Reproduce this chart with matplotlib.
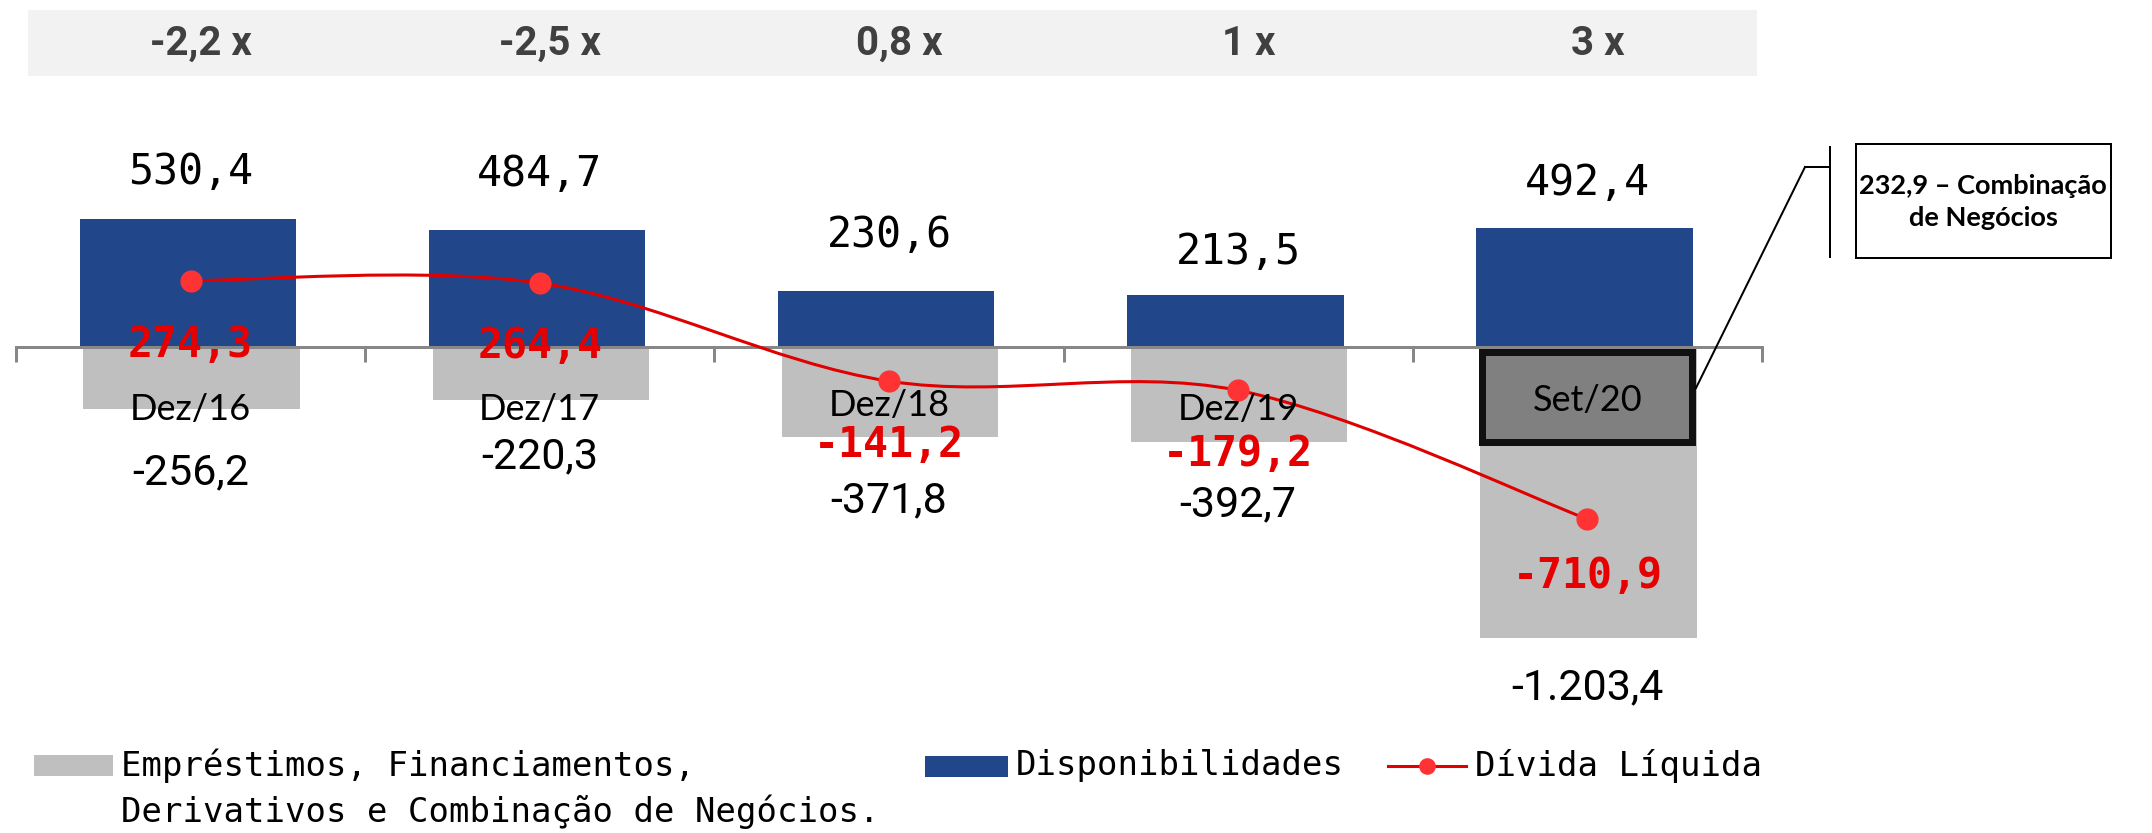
import matplotlib
matplotlib.use("Agg")
import matplotlib.pyplot as plt
import matplotlib.transforms as mtransforms
from matplotlib.patches import Rectangle, PathPatch
from matplotlib.path import Path
from matplotlib.lines import Line2D
import numpy as np

# ---------------- data ----------------
categories = ["Dez/16", "Dez/17", "Dez/18", "Dez/19", "Set/20"]
leverage_labels = ["-2,2 x", "-2,5 x", "0,8 x", "1 x", "3 x"]
cash = [530.4, 484.7, 230.6, 213.5, 492.4]                 # Disponibilidades
debt = [-256.2, -220.3, -371.8, -392.7, -1203.4]           # Empréstimos...
net_debt = [274.3, 264.4, -141.2, -179.2, -710.9]          # Dívida Líquida
combination_note = "232,9 – Combinação\nde Negócios"
legend_debt = ["Empréstimos, Financiamentos,", "Derivativos e Combinação de Negócios."]
legend_cash = "Disponibilidades"
legend_net = "Dívida Líquida"


def fmt_br(v):
    s = f"{v:,.1f}"
    return s.replace(",", "X").replace(".", ",").replace("X", ".")


# ---------------- style / layout ----------------
W, H, DPI = 2152, 833, 100
PT = 72.0 / DPI                 # points per pixel
BLUE = "#21468a"
GRAY = "#bfbfbf"
RED_LINE = "#e00000"
RED_DOT = "#ff3333"
RED_TXT = "#e60000"
AXIS_GRAY = "#878787"

AXIS_PY = 347.0     # pixel row of zero line (from top)
PX_PER_UNIT = 0.242
X0_PX, DX_PX = 190.6, 349.2
BAR_W = 0.62
cash_gap_px = [47, 56, 56, 43, 45]
debt_gap_px = [64, 57, 64, 63, 50]
net_gap_px = [64, 63, 64, 64, 57]
cat_gap_px = [62, 62, 58, 62, 53]

fig = plt.figure(figsize=(W / DPI, H / DPI), dpi=DPI)
ax = fig.add_axes([0, 0, 1, 1])
ax.set_xlim(-X0_PX / DX_PX, (W - X0_PX) / DX_PX)
ax.set_ylim(-(H - AXIS_PY) / PX_PER_UNIT, AXIS_PY / PX_PER_UNIT)
ax.patch.set_alpha(0)


def fx(px):
    return px / W


def fy(py):
    return 1 - py / H


x = np.arange(len(categories))

# bars
ax.bar(x + 0.003, debt, width=BAR_W, color=GRAY, zorder=1)
ax.bar(x - 0.008, cash, width=BAR_W, color=BLUE, zorder=2)

# highlighted Set/20 segment box (combination of business)
hl_top_px, hl_bot_px, hl_lw_px = 351.5, 441.5, 7
hl_y0 = (AXIS_PY - hl_top_px) / PX_PER_UNIT
hl_y1 = (AXIS_PY - hl_bot_px) / PX_PER_UNIT
hl_w = 0.601
ax.add_patch(Rectangle((x[-1] - hl_w / 2, hl_y1), hl_w, hl_y0 - hl_y1,
                       facecolor="#808080", edgecolor="#111111",
                       linewidth=hl_lw_px * PT, zorder=2.6))

# axis line with ticks at category boundaries
for s in ["top", "right", "left"]:
    ax.spines[s].set_visible(False)
ax.spines["bottom"].set_position(("data", 0))
ax.spines["bottom"].set_bounds(-0.5, len(categories) - 0.5)
ax.spines["bottom"].set_color(AXIS_GRAY)
ax.spines["bottom"].set_linewidth(3 * PT)
ax.spines["bottom"].set_zorder(2.5)
ax.set_xticks(np.arange(-0.5, len(categories), 1.0))
ax.tick_params(axis="x", direction="out", length=15 * PT, width=3 * PT,
               color=AXIS_GRAY, labelbottom=False)
ax.set_yticks([])

# smoothed net-debt line (Catmull-Rom -> Bezier)
pts = np.column_stack([x, net_debt]).astype(float)
ext = np.vstack([pts[0], pts, pts[-1]])
verts = [tuple(pts[0])]
codes = [Path.MOVETO]
for i in range(len(pts) - 1):
    p0, p1, p2, p3 = ext[i], ext[i + 1], ext[i + 2], ext[i + 3]
    c1 = p1 + (p2 - p0) / 6.0
    c2 = p2 - (p3 - p1) / 6.0
    verts += [tuple(c1), tuple(c2), tuple(p2)]
    codes += [Path.CURVE4] * 3
ax.add_patch(PathPatch(Path(verts, codes), fill=False, edgecolor=RED_LINE,
                       linewidth=2.2, zorder=3, capstyle="round"))
ax.plot(x, net_debt, "o", ms=16, color=RED_DOT, zorder=4, mec="none")

# labels
MONO = "DejaVu Sans Mono"
for i in x:
    ax.annotate(fmt_br(cash[i]), xy=(i, cash[i]), xytext=(0, cash_gap_px[i] * PT),
                textcoords="offset points", ha="center", va="center",
                fontsize=30, family=MONO, color="black", zorder=5)
    ax.annotate(fmt_br(debt[i]), xy=(i, debt[i]), xytext=(0, -debt_gap_px[i] * PT),
                textcoords="offset points", ha="center", va="center",
                fontsize=31, family="Roboto", color="black", zorder=5)
    ax.annotate(fmt_br(net_debt[i]), xy=(i, net_debt[i]),
                xytext=(0, -net_gap_px[i] * PT),
                textcoords="offset points", ha="center", va="center",
                fontsize=30, family=MONO, fontweight="bold", color=RED_TXT,
                zorder=6)
    ax.annotate(categories[i], xy=(i, 0), xytext=(0, -cat_gap_px[i] * PT),
                textcoords="offset points", ha="center", va="center",
                fontsize=26, family="Lato", color="black", zorder=5)

# header band with leverage multiples
fig.add_artist(Rectangle((fx(28), fy(76)), fx(1757) - fx(28), (76 - 10) / H,
                         transform=fig.transFigure, facecolor="#f2f2f2",
                         edgecolor="none", zorder=0))
blend = mtransforms.blended_transform_factory(ax.transData, fig.transFigure)
for i in x:
    ax.text(i + 0.03, fy(44), leverage_labels[i], transform=blend,
            ha="center", va="center", fontsize=29, family="Roboto",
            fontweight="bold", color="#404040", zorder=5)

# annotation box and bracket
fig.add_artist(Rectangle((fx(1856), fy(258)), fx(2111) - fx(1856), (258 - 144) / H,
                         transform=fig.transFigure, facecolor="white",
                         edgecolor="black", linewidth=2 * PT, zorder=5))
fig.text(fx(1983), fy(202), combination_note, ha="center", va="center",
         fontsize=19.5, family="Lato", fontweight="bold", color="black",
         linespacing=1.45, zorder=6)
for (xa, ya), (xb, yb) in [((1830, 147), (1830, 257)),
                           ((1805, 167), (1830, 167)),
                           ((1805, 167), (1696, 388))]:
    fig.add_artist(Line2D([fx(xa), fx(xb)], [fy(ya), fy(yb)],
                          transform=fig.transFigure, color="black",
                          linewidth=2 * PT, zorder=6))

# legend (manual)
LEG_FS = 24.5
fig.add_artist(Rectangle((fx(34), fy(776)), fx(113) - fx(34), 21 / H,
                         transform=fig.transFigure, facecolor=GRAY,
                         edgecolor="none"))
fig.text(fx(121), fy(766), legend_debt[0], ha="left", va="center",
         fontsize=LEG_FS, family=MONO, color="black")
fig.text(fx(121), fy(812), legend_debt[1], ha="left", va="center",
         fontsize=LEG_FS, family=MONO, color="black")
fig.add_artist(Rectangle((fx(925), fy(777)), fx(1008) - fx(925), 21 / H,
                         transform=fig.transFigure, facecolor=BLUE,
                         edgecolor="none"))
fig.text(fx(1016), fy(766), legend_cash, ha="left", va="center",
         fontsize=LEG_FS, family=MONO, color="black")
fig.add_artist(Line2D([fx(1388), fx(1466)], [fy(766), fy(766)],
                      transform=fig.transFigure, color=RED_LINE,
                      linewidth=2.2))
fig.add_artist(Line2D([fx(1427)], [fy(766)], transform=fig.transFigure,
                      marker="o", ms=12, color=RED_DOT, mec="none"))
fig.text(fx(1475), fy(766), legend_net, ha="left", va="center",
         fontsize=LEG_FS, family=MONO, color="black")

fig.savefig("out.png", dpi=DPI, facecolor="white")
